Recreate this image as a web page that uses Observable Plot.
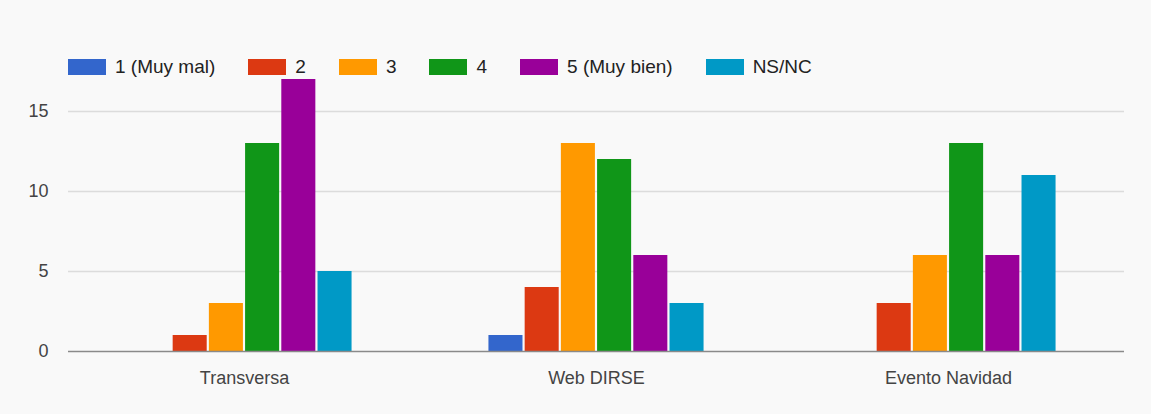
<!DOCTYPE html>
<html>
<head>
<meta charset="utf-8">
<script src="https://cdn.jsdelivr.net/npm/d3@7"></script>
<script src="https://cdn.jsdelivr.net/npm/@observablehq/plot@0.6"></script>
<style>
  html, body { margin: 0; padding: 0; background: #f9f9f9; }
  #wrap { position: relative; width: 1151px; height: 414px; background: #f9f9f9; font-family: Arial, "Liberation Sans", sans-serif; }
  #legend { position: absolute; left: 68px; top: 56px; display: flex; align-items: center; font-size: 19px; color: #222; }
  .item { display: flex; align-items: center; margin-right: 33px; }
  .sw { width: 38px; height: 16px; margin-right: 9px; }
  #chart { position: absolute; left: 0; top: 0; }
</style>
</head>
<body>
<div id="wrap">
  <div id="chart"></div>
  <div id="legend"></div>
</div>
<script>
const categories = ["Transversa", "Web DIRSE", "Evento Navidad"];
const seriesNames = ["1 (Muy mal)", "2", "3", "4", "5 (Muy bien)", "NS/NC"];
const colors = ["#3366cc", "#dc3912", "#ff9900", "#109618", "#990099", "#0099c6"];
const transversa = [0, 1, 3, 13, 17, 5];
const webDirse = [1, 4, 13, 12, 6, 3];
const eventoNavidad = [0, 3, 6, 13, 6, 11];
const yTicks = [0, 5, 10, 15];

const valuesByCategory = [transversa, webDirse, eventoNavidad];
const data = [];
categories.forEach((c, i) => {
  seriesNames.forEach((s, j) => {
    data.push({category: c, series: s, value: valuesByCategory[i][j]});
  });
});

const plot = Plot.plot({
  width: 1151,
  height: 414,
  marginLeft: 68,
  marginRight: 27,
  marginTop: 79,
  marginBottom: 63,
  style: {background: "transparent", fontSize: "18px", fontFamily: "Arial, 'Liberation Sans', sans-serif", color: "#444"},
  fx: {domain: categories, padding: 0, round: false, axis: "bottom", label: null, tickSize: 0, tickPadding: 20},
  x: {domain: seriesNames, axis: null, round: false, paddingInner: 0.06, paddingOuter: 1.89},
  y: {domain: [0, 17], ticks: yTicks, label: null, tickSize: 0, tickPadding: 20},
  color: {domain: seriesNames, range: colors},
  marks: [
    Plot.ruleY(yTicks.filter(d => d > 0), {stroke: "#dcdcdc", strokeWidth: 1.5}),
    Plot.barY(data, {fx: "category", x: "series", y: "value", fill: "series"}),
    Plot.ruleY([0], {stroke: "#8a8a8a", strokeWidth: 1.5})
  ]
});
document.getElementById("chart").appendChild(plot);

const legend = document.getElementById("legend");
seriesNames.forEach((s, i) => {
  const item = document.createElement("div");
  item.className = "item";
  const sw = document.createElement("div");
  sw.className = "sw";
  sw.style.background = colors[i];
  const t = document.createElement("span");
  t.textContent = s;
  item.appendChild(sw);
  item.appendChild(t);
  legend.appendChild(item);
});
</script>
</body>
</html>
